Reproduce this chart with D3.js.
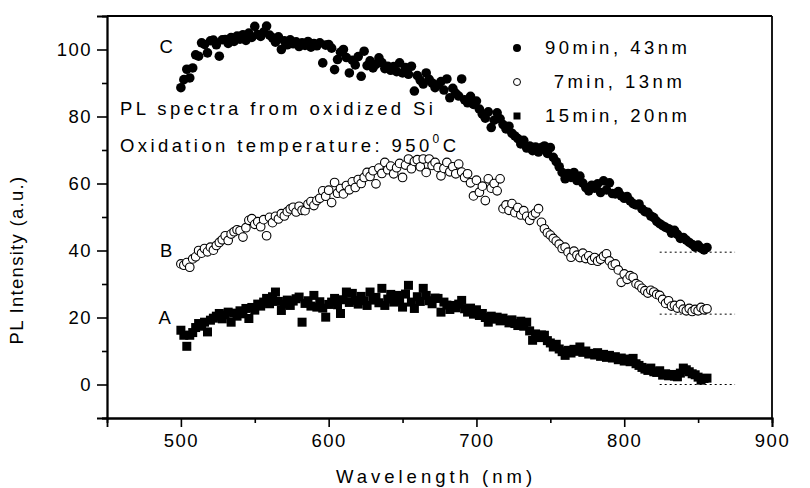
<!DOCTYPE html>
<html><head><meta charset="utf-8">
<script src="https://cdn.jsdelivr.net/npm/d3@7"></script>
<style>
body{margin:0;background:#fff;}
svg text{font-family:"Liberation Sans",Arial,sans-serif;fill:#000;}
</style></head>
<body><svg id="c" width="810" height="488"></svg>
<script>
const wavelength = [500,502,504,506,508,510,512,514,516,518,520,522,524,526,528,530,532,534,536,538,540,542,544,546,548,550,552,554,556,558,560,562,564,566,568,570,572,574,576,578,580,582,584,586,588,590,592,594,596,598,600,602,604,606,608,610,612,614,616,618,620,622,624,626,628,630,632,634,636,638,640,642,644,646,648,650,652,654,656,658,660,662,664,666,668,670,672,674,676,678,680,682,684,686,688,690,692,694,696,698,700,702,704,706,708,710,712,714,716,718,720,722,724,726,728,730,732,734,736,738,740,742,744,746,748,750,752,754,756,758,760,762,764,766,768,770,772,774,776,778,780,782,784,786,788,790,792,794,796,798,800,802,804,806,808,810,812,814,816,818,820,822,824,826,828,830,832,834,836,838,840,842,844,846,848,850,852,854,856];

// C: 90min, 43nm (filled circles)
const seriesC = [88.6,91.0,94.1,91.5,94.5,98.4,98.0,102.0,101.5,99.0,102.6,102.8,101.4,98.0,102.9,103.0,101.8,103.6,102.4,104.0,103.1,104.4,102.7,104.9,103.6,106.9,104.5,103.9,105.2,107.0,104.3,103.5,102.2,103.8,100.0,102.6,101.4,102.9,101.7,102.3,100.9,102.0,101.2,102.4,100.7,101.8,101.1,102.0,96.0,101.3,101.5,100.4,94.0,97.0,99.2,100.0,97.6,93.0,96.8,95.4,97.9,92.0,99.5,95.2,96.6,94.5,95.6,97.5,96.1,94.3,95.0,93.8,94.9,93.4,96.0,93.0,94.6,92.6,95.0,87.6,92.2,90.8,89.7,93.0,91.1,90.0,88.6,89.5,90.4,87.9,91.2,85.6,88.4,86.9,86.1,91.2,85.0,84.1,86.0,83.6,84.6,82.2,80.7,79.5,81.4,76.7,78.9,81.1,79.3,77.6,76.3,77.1,75.0,74.2,73.4,71.8,72.9,70.6,71.2,69.8,70.9,69.4,70.7,71.2,69.0,70.7,67.8,66.5,65.0,63.3,61.4,63.0,61.8,63.3,60.9,62.2,60.1,58.8,57.8,59.5,58.6,59.9,57.3,60.8,58.1,60.2,57.0,56.9,57.6,56.3,55.6,56.1,54.8,54.0,53.6,53.9,52.4,51.6,51.4,50.3,49.8,48.7,48.0,47.4,46.9,46.5,45.2,46.0,44.8,43.6,43.9,43.1,42.4,41.8,41.0,41.6,40.7,40.2,40.9];

// B: 7min, 13nm (open circles)
const seriesB = [36.0,35.6,36.4,35.0,37.5,38.1,40.0,39.2,40.6,39.6,41.0,40.1,41.5,42.4,43.2,44.4,43.0,44.9,45.6,46.2,45.9,44.0,46.8,49.0,49.5,47.8,48.6,47.1,49.2,44.4,49.9,48.3,50.2,49.4,51.0,50.3,51.6,52.4,52.9,51.5,53.2,52.0,51.9,53.8,54.6,53.4,54.9,55.6,57.8,56.2,58.0,54.3,60.3,57.1,58.5,56.9,59.4,58.1,60.5,58.8,61.2,60.0,61.8,63.3,62.1,63.8,59.9,64.6,63.0,66.3,64.1,65.2,62.9,64.7,66.0,61.8,65.5,67.3,64.4,66.6,67.1,65.0,67.3,63.3,67.3,65.4,66.3,64.8,62.3,64.5,66.3,63.5,65.0,62.9,65.8,63.4,61.8,62.9,60.2,56.3,61.0,57.4,59.2,54.9,61.4,58.6,60.0,57.8,61.4,52.5,53.6,52.0,54.0,51.3,52.8,50.6,51.9,50.2,49.0,50.5,51.2,52.5,48.4,46.5,45.3,44.6,43.6,42.8,41.9,40.6,41.0,39.5,38.0,39.8,38.6,37.9,39.2,37.6,38.4,37.1,37.9,36.8,37.4,38.3,39.0,36.9,35.6,36.0,34.2,30.5,33.0,31.4,32.5,32.0,30.1,29.6,28.7,28.0,27.3,28.1,27.6,26.9,26.6,25.4,24.2,25.0,23.4,23.6,22.8,23.9,22.5,22.0,22.7,21.8,22.4,22.0,23.0,22.3,22.6];

// A: 15min, 20nm (filled squares)
const seriesA = [16.2,14.7,11.4,14.7,15.5,17.0,18.2,17.4,18.6,15.7,19.2,19.8,20.4,21.2,19.6,20.8,21.6,18.6,21.3,20.4,22.0,21.1,22.7,19.7,23.0,22.2,24.0,23.4,24.6,25.7,24.1,26.2,27.6,24.8,22.1,24.0,25.2,23.6,24.9,25.6,26.1,18.6,24.2,25.0,23.4,26.6,23.1,24.7,22.8,20.1,23.9,24.6,25.7,23.8,21.2,25.3,27.6,24.5,27.2,25.1,24.0,26.3,25.0,23.6,27.6,25.2,26.0,24.4,28.7,23.6,25.5,26.9,24.6,26.6,25.0,23.1,27.0,29.6,24.6,22.7,26.2,24.8,28.7,26.6,25.0,24.1,25.8,25.7,21.6,24.6,23.7,22.4,23.6,22.9,24.0,25.1,22.6,21.6,22.8,21.0,22.3,20.6,21.2,20.0,18.6,20.4,19.5,20.1,19.0,19.8,19.1,18.4,19.3,18.2,17.6,18.9,17.4,18.6,16.0,13.2,15.1,14.0,14.8,14.7,13.1,12.4,11.2,12.0,10.6,9.8,8.7,10.2,9.4,10.5,9.9,11.2,9.6,10.0,9.1,9.3,8.8,9.5,8.4,9.0,8.1,8.7,7.9,8.3,7.4,7.9,7.0,7.6,6.8,7.8,6.2,5.7,5.1,4.6,4.2,4.9,3.8,3.6,4.1,2.8,3.2,2.6,3.0,2.5,2.3,3.4,4.9,4.4,3.8,3.2,2.9,2.2,1.3,1.8,1.9];

const legendLabels = ["90min, 43nm", " 7min, 13nm", "15min, 20nm"];
const curveLabels = ["C", "B", "A"];
const curveLabelPos = [[490, 101], [490, 40], [489, 20]]; // [nm, intensity]
const baselineValues = [39.5, 21, 0];
const baselineRange = [824, 875];
const xTicks = [500, 600, 700, 800, 900];
const yTicks = [0, 20, 40, 60, 80, 100];

const svg = d3.select("#c");
const m = {l:107, r:772, t:16, b:418};
const x = d3.scaleLinear().domain([450, 900]).range([m.l, m.r]);
const y = d3.scaleLinear().domain([-10, 110]).range([m.b, m.t]);
const FONT = "Liberation Sans, Arial, sans-serif";

// axes
svg.append("g").attr("transform",`translate(0,${m.b})`)
  .call(d3.axisBottom(x).tickValues(xTicks).tickSize(9).tickPadding(7).tickFormat(d3.format("d")));
svg.append("g").attr("transform",`translate(0,${m.b})`)
  .call(d3.axisBottom(x).tickValues(d3.range(550, 900, 100)).tickSize(5).tickFormat(""));
svg.append("g").attr("transform",`translate(${m.l},0)`)
  .call(d3.axisLeft(y).tickValues(yTicks).tickSize(10).tickPadding(5).tickFormat(d3.format("d")));
svg.append("g").attr("transform",`translate(${m.l},0)`)
  .call(d3.axisLeft(y).tickValues(d3.range(-10, 110, 20)).tickSize(5).tickFormat(""));
svg.selectAll(".tick line").attr("stroke","#000").attr("stroke-width",1.6);
svg.selectAll(".tick text").attr("font-size",18.5).attr("font-family",FONT).attr("fill","#000").style("letter-spacing","1.5px");
// keep the axis lines themselves as part of the frame
svg.selectAll(".domain").attr("stroke","#000").attr("stroke-width",1.8).attr("fill","none");

// remaining frame sides (top and right)
const edges = [[m.l, m.t, m.r, m.t], [m.r, m.t, m.r, m.b]];
svg.append("g").selectAll("line").data(edges).join("line")
  .attr("x1", d=>d[0]).attr("y1", d=>d[1]).attr("x2", d=>d[2]).attr("y2", d=>d[3])
  .attr("stroke","#000").attr("stroke-width",1.8);

// axis titles
svg.append("text").attr("x", 436).attr("y", 483).attr("text-anchor","middle").attr("font-family",FONT)
  .attr("font-size",18.5).style("letter-spacing","4px").text("Wavelength (nm)");
svg.append("text").attr("transform","translate(23,260) rotate(-90)").attr("text-anchor","middle").attr("font-family",FONT)
  .attr("font-size",18.5).style("letter-spacing","1.3px").text("PL Intensity (a.u.)");

// baselines
const plot = svg.append("g");
plot.selectAll(".bl").data(baselineValues).join("line")
  .attr("x1", x(baselineRange[0])).attr("x2", x(baselineRange[1]))
  .attr("y1", d=>y(d)).attr("y2", d=>y(d))
  .attr("stroke","#000").attr("stroke-width",1).attr("stroke-dasharray","2,3");

// markers
const dataC = wavelength.map((w,i)=>[w, seriesC[i]]);
const dataB = wavelength.map((w,i)=>[w, seriesB[i]]);
const dataA = wavelength.map((w,i)=>[w, seriesA[i]]);
plot.selectAll(".pa").data(dataA).join("rect")
  .attr("x", d=>x(d[0])-4.5).attr("y", d=>y(d[1])-4.5).attr("width",9).attr("height",9).attr("fill","#000");
plot.selectAll(".pb").data(dataB).join("circle")
  .attr("cx", d=>x(d[0])).attr("cy", d=>y(d[1])).attr("r",4.3)
  .attr("fill","#fff").attr("stroke","#000").attr("stroke-width",1.1);
plot.selectAll(".pc").data(dataC).join("circle")
  .attr("cx", d=>x(d[0])).attr("cy", d=>y(d[1])).attr("r",4.8).attr("fill","#000");

// curve labels
plot.selectAll(".cl").data(curveLabels).join("text")
  .attr("x",(d,i)=>x(curveLabelPos[i][0])).attr("y",(d,i)=>y(curveLabelPos[i][1]))
  .attr("dy","0.35em").attr("text-anchor","middle").attr("font-family",FONT).attr("font-size",18.5).text(d=>d);

// annotations
svg.append("text").attr("x",120).attr("y",115).attr("font-family",FONT).attr("font-size",18.5).style("letter-spacing","3.4px")
  .text("PL spectra from oxidized Si");
const t2 = svg.append("text").attr("x",120).attr("y",152).attr("font-family",FONT).attr("font-size",18.5).style("letter-spacing","3.4px");
t2.append("tspan").text("Oxidation temperature: 950");
t2.append("tspan").attr("font-size",12).attr("dy",-9).text("0");
t2.append("tspan").attr("dy",9).text("C");

// legend
const lg = svg.append("g");
const lgY = [48, 82, 116];
lg.append("circle").attr("cx",517).attr("cy",lgY[0]).attr("r",4).attr("fill","#000");
lg.append("circle").attr("cx",517).attr("cy",lgY[1]).attr("r",3.5).attr("fill","#fff").attr("stroke","#000").attr("stroke-width",1);
lg.append("rect").attr("x",513.5).attr("y",lgY[2]-3.5).attr("width",7).attr("height",7).attr("fill","#000");
lg.selectAll("text").data(legendLabels).join("text")
  .attr("x",545).attr("y",(d,i)=>lgY[i]).attr("dy","0.35em").attr("font-family",FONT).attr("font-size",18.5)
  .style("letter-spacing","3.5px").style("white-space","pre").text(d=>d);
</script></body></html>
